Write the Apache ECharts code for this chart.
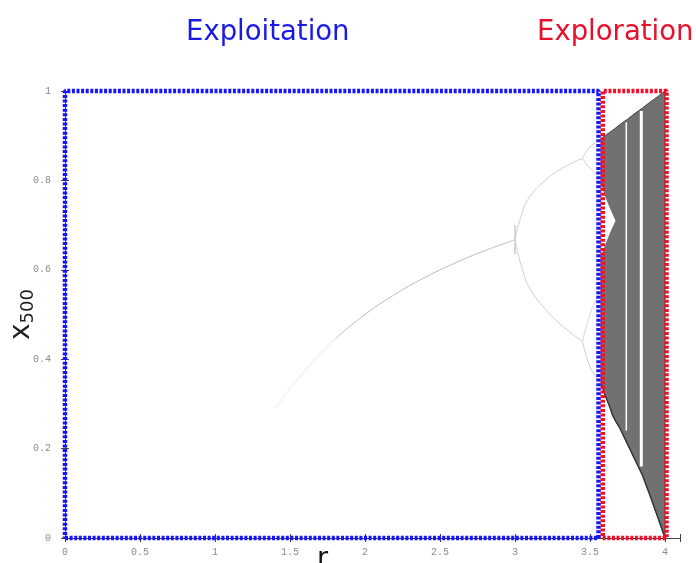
<!DOCTYPE html>
<html>
<head>
<meta charset="utf-8">
<script src="https://cdn.jsdelivr.net/npm/echarts@6/dist/echarts.min.js"></script>
<style>html,body{margin:0;padding:0;background:#fff}#c{width:696px;height:563px}</style>
</head>
<body>
<div id="c"></div>
<script>
// ---- data ----
const xTickLabels = ['0','0.5','1','1.5','2','2.5','3','3.5','4'];
const yTickLabels = ['0','0.2','0.4','0.6','0.8','1'];
// faint fixed-point branch
const rFixedFaint = [1.4, 1.6, 1.8];
const xFixedFaint = [0.29, 0.375, 0.445];
const rFixed = [1.8, 2.0, 2.2, 2.4, 2.6, 2.8, 3.0];
const xFixed = [0.445, 0.50, 0.545, 0.583, 0.615, 0.643, 0.667];
// smear at the first bifurcation
const rSmear = [3.0, 3.0];
const xSmear = [0.635, 0.70];
// period-2 branches
const rP2 = [3.0, 3.05, 3.1, 3.2, 3.3, 3.4, 3.45];
const xP2up = [0.667, 0.73, 0.764, 0.80, 0.824, 0.842, 0.849];
const xP2lo = [0.667, 0.60, 0.558, 0.513, 0.479, 0.452, 0.44];
// period-4 branches
const rP4 = [3.45, 3.5, 3.55, 3.57];
const xP4a = [0.849, 0.875, 0.887, 0.892];
const xP4b = [0.849, 0.827, 0.812, 0.806];
const xP4c = [0.44, 0.50, 0.54, 0.55];
const xP4d = [0.44, 0.383, 0.355, 0.345];
// chaotic band envelopes
const rChaos   = [3.575, 3.59, 3.6, 3.63, 3.65, 3.67, 3.7, 3.75, 3.8, 3.85, 3.9, 3.95, 4.0];
const chaosLow = [0.345, 0.33, 0.32, 0.295, 0.275, 0.262, 0.245, 0.21, 0.175, 0.14, 0.095, 0.048, 0.0];
const chaosTop = [0.894, 0.898, 0.90, 0.907, 0.912, 0.917, 0.925, 0.937, 0.95, 0.962, 0.975, 0.987, 1.0];
// gap between the two bands before they merge
const rGap     = [3.575, 3.59, 3.6, 3.63, 3.65, 3.67];
const gapLow   = [0.63, 0.645, 0.655, 0.68, 0.695, 0.71];
const gapHigh  = [0.79, 0.775, 0.765, 0.74, 0.725, 0.71];
// periodic windows (white streaks): r, bottom, top
const windowR   = [3.742, 3.842];
const windowBot = [0.24, 0.16];
const windowTop = [0.93, 0.955];
// highlighted regions: r from, r to
const exploitR = [0, 3.557];
const exploreR = [3.585, 4.01];

// ---- helpers ----
const pairs = (xs, ys) => xs.map((x, i) => [x, ys[i]]);
const rect = (r) => [[r[0], 0], [r[1], 0], [r[1], 1], [r[0], 1], [r[0], 0]];
const thin = (data, color, w) => ({
  type: 'line', data, symbol: 'none', smooth: true, silent: true,
  lineStyle: { color, width: w }, z: 2
});
// polygon: upper edge forward, lower edge backward
const bandPolygon = (xs, upper, lower) =>
  pairs(xs, upper).concat(pairs(xs, lower).reverse());

const chaosGray = '#717171';
const polySeries = (pts, fill, stroke, z) => ({
  type: 'custom', silent: true, z,
  data: [0],
  renderItem: (params, api) => ({
    type: 'polygon',
    shape: { points: pts.map(p => api.coord(p)) },
    style: { fill, stroke: stroke || null, lineWidth: stroke ? 1 : 0 }
  })
});

const series = [
  thin(pairs(rFixedFaint, xFixedFaint), '#f5f5f5', 2),
  thin(pairs(rFixed, xFixed), '#bdbdbd', 1),
  thin(pairs(rSmear, xSmear), '#c8c8c8', 1.5),
  thin(pairs(rP2, xP2up), '#cfcfcf', 1),
  thin(pairs(rP2, xP2lo), '#cfcfcf', 1),
  thin(pairs(rP4, xP4a), '#cccccc', 1),
  thin(pairs(rP4, xP4b), '#cccccc', 1),
  thin(pairs(rP4, xP4c), '#d8d8d8', 1),
  thin(pairs(rP4, xP4d), '#cccccc', 1),
  polySeries(bandPolygon(rChaos, chaosTop, chaosLow), chaosGray, '#444', 3),
  polySeries(bandPolygon(rGap, gapHigh, gapLow), '#ffffff', null, 4),
  { type: 'line', data: pairs(rChaos, chaosLow), symbol: 'none', silent: true,
    lineStyle: { color: '#333', width: 1.3 }, z: 5 },
  { type: 'line', data: [[windowR[0], windowBot[0]], [windowR[0], windowTop[0]]], symbol: 'none', silent: true,
    lineStyle: { color: '#ffffff', width: 1.5 }, z: 6 },
  { type: 'line', data: [[windowR[1], windowBot[1]], [windowR[1], windowTop[1]]], symbol: 'none', silent: true,
    lineStyle: { color: '#ffffff', width: 3 }, z: 6 },
  { type: 'line', data: rect(exploitR), symbol: 'none', silent: true, clip: false,
    lineStyle: { color: '#1414ff', width: 4.5, type: [3, 1.6], cap: 'butt' }, z: 10 },
  { type: 'line', data: rect(exploreR), symbol: 'none', silent: true, clip: false,
    lineStyle: { color: '#f0102a', width: 4.5, type: [3, 1.6], cap: 'butt' }, z: 11 }
];

const labelFont = { color: '#8a8a8a', fontFamily: 'Liberation Mono', fontSize: 10 };
const chart = echarts.init(document.getElementById('c'), null, { renderer: 'canvas' });
chart.setOption({
  animation: false,
  backgroundColor: '#ffffff',
  grid: { left: 65, right: 16, top: 91, bottom: 25, containLabel: false, outerBoundsMode: 'none' },
  graphic: [
    { type: 'text', left: 186, top: 19, style: { text: 'Exploitation', fill: '#1a1ae6', font: '27.5px "DejaVu Sans"' } },
    { type: 'text', left: 537, top: 19, style: { text: 'Exploration', fill: '#e8102a', font: '27.5px "DejaVu Sans"' } }
  ],
  xAxis: [
    { type: 'value', min: 0, max: 4.1, interval: 0.5, position: 'bottom',
      name: 'r', nameLocation: 'middle', nameGap: 7, nameMoveOverlap: false,
      nameTextStyle: { color: '#111', fontSize: 27, fontFamily: 'DejaVu Sans', padding: [0, 100, 0, 0] },
      axisLine: { show: true, lineStyle: { color: '#444', width: 1 } },
      axisTick: { show: true, inside: true, length: 4, lineStyle: { color: '#444' } },
      splitLine: { show: false },
      axisLabel: Object.assign({ margin: 9, formatter: v => xTickLabels.includes(String(v)) ? String(v) : '' }, labelFont) },
    { type: 'value', min: 0, max: 4.1, interval: 0.5, position: 'top',
      axisLine: { show: true, lineStyle: { color: '#444', width: 1 } },
      axisTick: { show: true, inside: true, length: 4, lineStyle: { color: '#444' } },
      splitLine: { show: false }, axisLabel: { show: false } }
  ],
  yAxis: [
    { type: 'value', min: 0, max: 1, interval: 0.2, position: 'left',
      name: '{x|x}{s|500}', nameLocation: 'middle', nameRotate: 90, nameGap: 28, nameMoveOverlap: false,
      nameTextStyle: { rich: {
        x: { fontSize: 28, fontFamily: 'DejaVu Sans', color: '#222', lineHeight: 30 },
        s: { fontSize: 18, fontFamily: 'DejaVu Sans', color: '#222', verticalAlign: 'bottom', lineHeight: 30 }
      } },
      axisLine: { show: true, lineStyle: { color: '#444', width: 1 } },
      axisTick: { show: true, inside: true, length: 4, lineStyle: { color: '#444' } },
      splitLine: { show: false },
      axisLabel: Object.assign({ margin: 14, formatter: v => { const s = String(v); return yTickLabels.includes(s) ? s : ''; } }, labelFont) },
    { type: 'value', min: 0, max: 1, interval: 0.2, position: 'right',
      axisLine: { show: true, lineStyle: { color: '#444', width: 1 } },
      axisTick: { show: true, inside: true, length: 4, lineStyle: { color: '#444' } },
      splitLine: { show: false }, axisLabel: { show: false } }
  ],
  series: series
});
</script>
</body>
</html>
